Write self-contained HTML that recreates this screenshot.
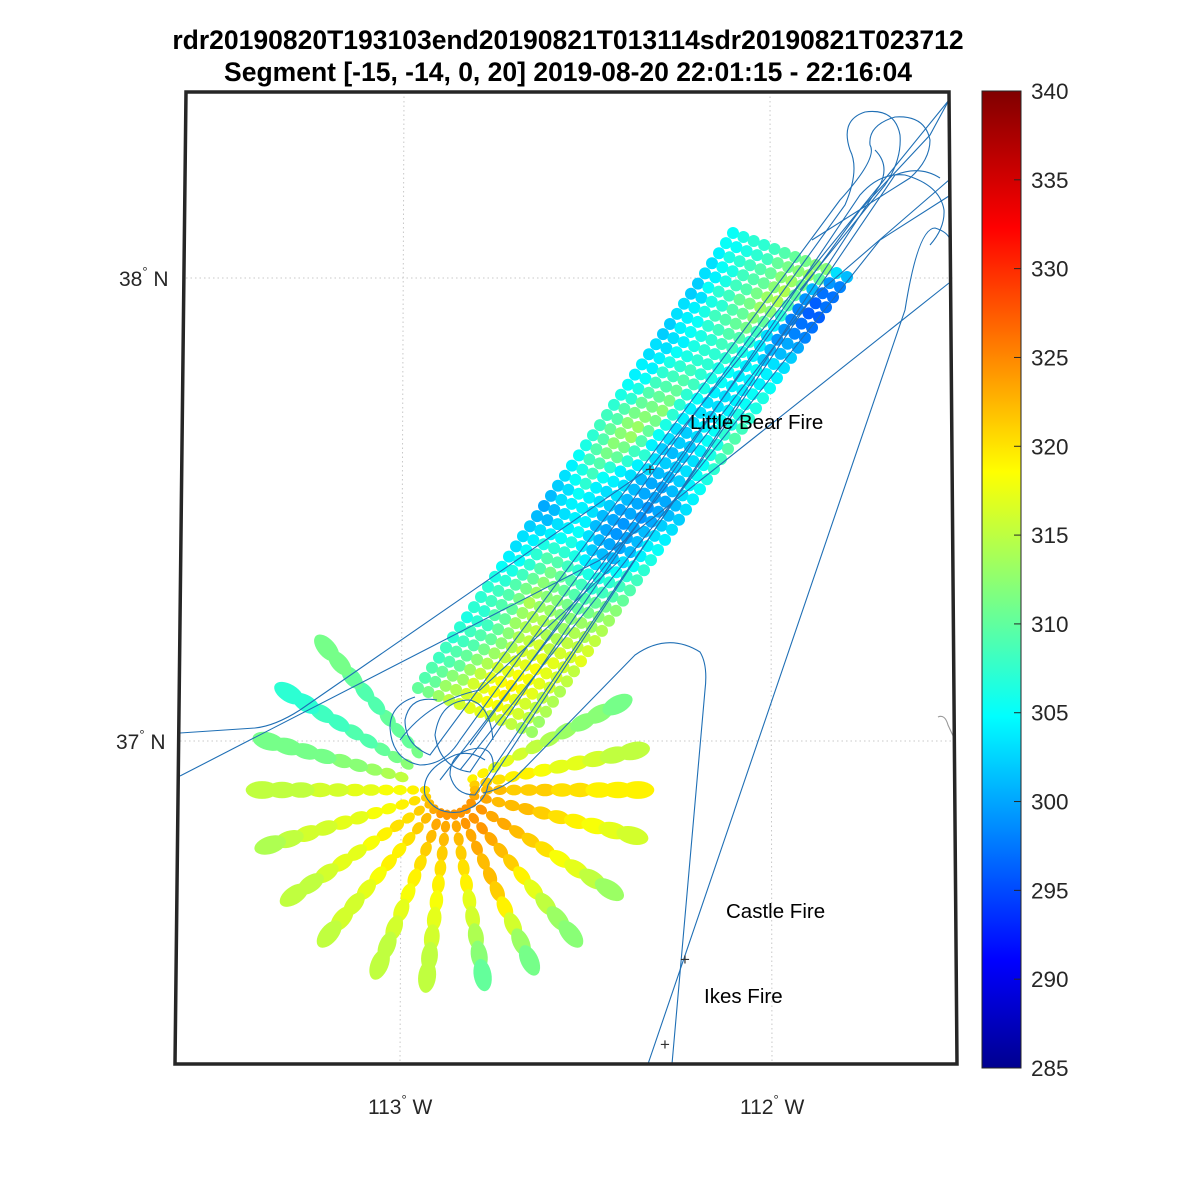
<!DOCTYPE html>
<html><head><meta charset="utf-8"><style>
body{margin:0;background:#fff;}
svg{display:block;font-family:"Liberation Sans",Arial,sans-serif;}
</style></head><body>
<svg id="chart" width="1200" height="1200" viewBox="0 0 1200 1200">
<defs>
<linearGradient id="jet" x1="0" y1="1" x2="0" y2="0">
<stop offset="0" stop-color="#00008f"/><stop offset="0.11" stop-color="#0000ff"/><stop offset="0.36" stop-color="#00ffff"/><stop offset="0.61" stop-color="#ffff00"/><stop offset="0.86" stop-color="#ff0000"/><stop offset="1" stop-color="#800000"/>
</linearGradient>
<clipPath id="mapclip"><polygon points="186,92 949,92 957,1064 175,1064"/></clipPath>
</defs>
<text x="568" y="49" text-anchor="middle" font-size="26.5" font-weight="bold" fill="#000">rdr20190820T193103end20190821T013114sdr20190821T023712</text>
<text x="568" y="81" text-anchor="middle" font-size="26.5" font-weight="bold" fill="#000">Segment [-15, -14, 0, 20] 2019-08-20 22:01:15 - 22:16:04</text>
<g stroke="#c8c8c8" stroke-width="1" stroke-dasharray="1.5,3" fill="none">
<line x1="186" y1="278" x2="953" y2="278"/>
<line x1="180" y1="741" x2="955" y2="741"/>
<line x1="404" y1="92" x2="400" y2="1064"/>
<line x1="770" y1="92" x2="772" y2="1064"/>
</g>
<g id="fan" clip-path="url(#mapclip)"></g>
<g id="swath" clip-path="url(#mapclip)"></g>
<g clip-path="url(#mapclip)" fill="none" stroke="#1f6fb5" stroke-width="1.1">
<path d="M180,733 L255,728 Q275,726 300,710 L650,468 L949,100"/>
<path d="M180,776 L600,560 L949,283"/>
<path d="M648,1064 L905,310 Q918,228 935,228 Q948,232 950,240"/>
<path d="M483,793 Q500,790 515,778 L635,655 Q668,632 700,652 Q708,665 705,690 L672,1064"/>
<path d="M415,697 Q390,705 390,728 Q392,760 420,765 Q445,765 460,740 L845,205 Q860,170 850,150 Q840,120 865,112 Q895,108 900,135 Q902,160 885,185 L800,290"/>
<path d="M437,700 Q410,695 405,720 Q405,745 430,755 L840,200 Q878,158 870,145 Q868,125 895,117 Q925,115 930,140 Q930,160 910,178 L812,240"/>
<path d="M493,740 Q490,705 470,700 Q440,700 435,735 Q440,768 470,772 L860,195 Q880,172 905,175 Q940,185 944,210 Q945,228 930,245"/>
<path d="M485,760 Q470,750 455,755 Q420,770 425,795 Q435,815 460,812 Q485,805 488,785 L880,185 Q890,165 875,150"/>
<path d="M493,770 Q495,750 480,748 Q450,750 450,775 Q455,795 475,795 L895,175 Q920,165 940,178"/>
<path d="M470,745 L860,210 L930,135 L949,100"/>
<path d="M440,780 L810,300 L949,180"/>
<path d="M460,770 L880,240 L949,196"/>
<path d="M400,740 Q430,700 480,690 L620,560"/>
<path d="M938,717 Q945,714 948,725 L955,740" stroke="#999"/>
</g>
<g font-size="20.5" fill="#000">
<text x="650" y="475" text-anchor="middle" font-size="17" fill="#333">+</text>
<text x="685" y="965" text-anchor="middle" font-size="17" fill="#333">+</text>
<text x="665" y="1050" text-anchor="middle" font-size="17" fill="#333">+</text>
<text x="690" y="429">Little Bear Fire</text>
<text x="726" y="918">Castle Fire</text>
<text x="704" y="1003">Ikes Fire</text>
</g>
<polygon points="186,92 949,92 957,1064 175,1064" fill="none" stroke="#262626" stroke-width="3.5"/>
<g font-size="21" fill="#262626">
<text x="119" y="286">38<tspan font-size="13" dy="-10">°</tspan><tspan dy="10"> N</tspan></text>
<text x="116" y="749">37<tspan font-size="13" dy="-10">°</tspan><tspan dy="10"> N</tspan></text>
<text x="368" y="1114">113<tspan font-size="13" dy="-10">°</tspan><tspan dy="10"> W</tspan></text>
<text x="740" y="1114">112<tspan font-size="13" dy="-10">°</tspan><tspan dy="10"> W</tspan></text>
</g>
<g id="cbar">
<rect x="982" y="91" width="39" height="977" fill="url(#jet)" stroke="#262626" stroke-width="1"/>
</g>
</svg>
<script>
const NS='http://www.w3.org/2000/svg';
const cbTicks=[285,290,295,300,305,310,315,320,325,330,335,340];
const tMin=285, tMax=340;
// swath temperatures: letter a=295 ... z=320; rows top(NE) to bottom(SW), cols west->east
const swathRows=[
"lmnnopqrssjh","llmnoqrstqfe","kmnopqstrhdd","jlmopqsuqfcd","jkmoprtupecc","ilnoqrtsnedd",
"ijmnpqsqkfee","jkmopqrojfgg","jklnoppnkhhi","iklmnoomkijj","ijkmnnnmklkk","jjlmnnmlkkkl",
"jkmnonmlkklm","kknopomkjklm","klopqnljjkmn","lmpqrnkjjlmo","mnqrsnkjklnp","nprsrmjijlmp",
"opstqljiikmo","oqstpkihijln","npsronjiijlm","mprqnkjhhikl","lopnkjhgghjk","kmolkjhggghj",
"jlnkjjhgfghi","ijlkjiggfgij","hjkkjhgfghjk","ghjkkhgfghkl","hhjkljhgghkm","ijklmkihhjln",
"jkmnnmkjjlno","jlnpponmmnop","klnprqponopq","lmoqsrqppqrs","mnprtssrqrst","nopruttssttu",
"nopqtuuttuuv","nnpqtuvuuvvw","mnoqsuvwvwwx","nopqsuwwxxwv","noprtvwxyxwv","opqsuwxyyxwu",
"opqtvxyzyxvu","pqstwxyzxwvu","pqtuwxyyxwvt","qrtvwxxwwvut"];
// fan spokes: angle (deg, screen) and temps from inner to outer
const spokeAngles=[-27,-12,0,14,32,50,65,80,97,112,130,146,163,180,195,211,229];
const spokeTemps=[
[320,320,318,318,317,316,315,314,313,313,312],
[322,322,321,320,320,319,318,318,317,316,316],
[323,323,323,322,322,322,321,321,320,320,320],
[324,324,323,323,323,322,321,320,319,318,317],
[325,325,324,324,323,322,321,319,318,316,314],
[325,325,325,324,323,322,320,318,316,314,313],
[325,325,324,324,323,323,322,320,317,314,312],
[325,324,323,322,321,320,318,317,315,313,311],
[325,324,323,322,321,320,319,318,317,316,316],
[325,324,323,322,321,320,319,318,317,316,316],
[324,323,322,321,320,320,319,318,317,317,316],
[323,322,321,321,320,319,318,318,317,316,316],
[322,321,320,319,319,318,318,317,317,316,315],
[321,320,319,319,318,318,317,317,316,316,316],
[318,317,316,315,314,313,313,312,312,312,312],
[315,314,313,312,311,310,310,309,309,308,308],
[314,313,312,311,311,311,310,310,311,312,312]];
const spokeRadii=[25,37,50,64,79,95,112,130,149,168,188];

function jet(t){
  const v=(t-tMin)/(tMax-tMin);
  const f=x=>Math.max(0,Math.min(1,x));
  const r=f(Math.min(4*v-1.5,-4*v+4.5)), g=f(Math.min(4*v-0.5,-4*v+3.5)), b=f(Math.min(4*v+0.5,-4*v+2.5));
  return `rgb(${Math.round(r*255)},${Math.round(g*255)},${Math.round(b*255)})`;
}
function cbY(t){return 1068-(t-tMin)/(tMax-tMin)*977;}

// fan
const fan=document.getElementById('fan');
const cx=450, cy=790;
spokeAngles.forEach((a,si)=>{
  const rad=a*Math.PI/180;
  spokeTemps[si].forEach((t,k)=>{
    const r=spokeRadii[k];
    if(si>=14 && r<45) return;
    const px=(cx+r*Math.cos(rad)).toFixed(1), py=(cy+r*Math.sin(rad)).toFixed(1);
    const e=document.createElementNS(NS,'ellipse');
    e.setAttribute('cx',px);
    e.setAttribute('cy',py);
    e.setAttribute('rx',(3.5+0.068*r).toFixed(1));
    e.setAttribute('ry',(3.6+0.028*r).toFixed(1));
    e.setAttribute('transform',`rotate(${a} ${px} ${py})`);
    e.setAttribute('fill',jet(t));
    
    
    fan.appendChild(e);
  });
});

// swath
const sw=document.getElementById('swath');
const TL=[733,233], AL=[-315,455], CR=[114,44];
const R=swathRows.length;
swathRows.forEach((row,i)=>{
  const C=row.length;
  for(let j=0;j<C;j++){
    const t=295+(row.charCodeAt(j)-97);
    const x=TL[0]+i/(R-1)*AL[0]+j/(C-1)*CR[0];
    const y=TL[1]+i/(R-1)*AL[1]+j/(C-1)*CR[1];
    const c=document.createElementNS(NS,'circle');
    c.setAttribute('cx',x.toFixed(1));
    c.setAttribute('cy',y.toFixed(1));
    c.setAttribute('r','6');
    c.setAttribute('fill',jet(t));
    
    
    sw.appendChild(c);
  }
});

// colorbar ticks
const cb=document.getElementById('cbar');
cbTicks.forEach(t=>{
  const y=cbY(t);
  const l=document.createElementNS(NS,'line');
  l.setAttribute('x1','1014');l.setAttribute('x2','1021');
  l.setAttribute('y1',y);l.setAttribute('y2',y);
  l.setAttribute('stroke','#262626');
  
  
  cb.appendChild(l);
  const tx=document.createElementNS(NS,'text');
  tx.setAttribute('x','1031');tx.setAttribute('y',(y+8).toFixed(1));
  tx.setAttribute('font-size','22.5');tx.setAttribute('fill','#262626');
  tx.textContent=t;
  
  
  cb.appendChild(tx);
});
</script>
</body></html>
